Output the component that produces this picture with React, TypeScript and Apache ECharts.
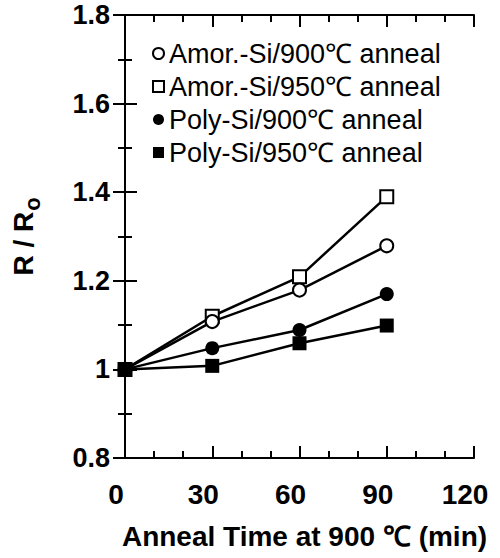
import React, { useEffect, useRef } from "react";
import * as echarts from "echarts";

const times = [0, 30, 60, 90];
const amor900 = [1.0, 1.108, 1.179, 1.279];
const amor950 = [1.0, 1.12, 1.209, 1.39];
const poly900 = [1.0, 1.048, 1.089, 1.17];
const poly950 = [1.0, 1.008, 1.059, 1.099];
const legendNames = [
  "Amor.-Si/900℃ anneal",
  "Amor.-Si/950℃ anneal",
  "Poly-Si/900℃ anneal",
  "Poly-Si/950℃ anneal",
];
const xTicks = { min: 0, max: 120, interval: 30 };
const yTicks = { min: 0.8, max: 1.8, interval: 0.2 };

const FONT = '"Liberation Sans", Arial, Helvetica, sans-serif';

const toPairs = (ys: number[]) => times.map((t, i) => [t, ys[i]]);

export default function App() {
  const ref = useRef<HTMLDivElement>(null);
  useEffect(() => {
    if (!ref.current) return;
    const chart = echarts.init(ref.current, null, { renderer: "svg" });
    const hollow = { color: "#fff", borderColor: "#000", borderWidth: 2 };
    const filled = { color: "#000", borderColor: "#000", borderWidth: 0 };
    const axisLine = { show: true, lineStyle: { color: "#000", width: 2 } };
    const xBase = {
      type: "value",
      min: xTicks.min,
      max: xTicks.max,
      interval: xTicks.interval,
      axisLine,
      axisTick: { show: true, inside: true, length: 12, lineStyle: { color: "#000", width: 2 } },
      minorTick: { show: true, splitNumber: 3, length: 7, lineStyle: { color: "#000", width: 2 } },
      splitLine: { show: false },
    };
    const yBase = {
      type: "value",
      min: yTicks.min,
      max: yTicks.max,
      interval: yTicks.interval,
      axisLine,
      axisTick: { show: true, inside: true, length: 12, lineStyle: { color: "#000", width: 2 } },
      minorTick: { show: true, splitNumber: 2, length: 7, lineStyle: { color: "#000", width: 2 } },
      splitLine: { show: false },
    };
    const mk = (name: string, data: number[], symbol: string, size: number, style: any) => ({
      name,
      type: "line",
      data: toPairs(data),
      symbol,
      symbolSize: size,
      showAllSymbol: true,
      clip: false,
      lineStyle: { color: "#000", width: 2.5 },
      itemStyle: style,
      emphasis: { disabled: true },
    });
    chart.setOption({
      animation: false,
      backgroundColor: "#fff",
      grid: { left: 125, right: 26, top: 15, bottom: 100 },
      legend: {
        orient: "vertical",
        left: 152,
        top: 40,
        padding: 0,
        itemWidth: 11,
        itemHeight: 11,
        itemGap: 6,
        selectedMode: false,
        textStyle: { fontSize: 27, lineHeight: 27, fontFamily: FONT, color: "#000" },
        data: [
          { name: legendNames[0], icon: "circle", itemStyle: { ...hollow } },
          { name: legendNames[1], icon: "rect", itemStyle: { ...hollow } },
          { name: legendNames[2], icon: "circle", itemStyle: { ...filled } },
          { name: legendNames[3], icon: "rect", itemStyle: { ...filled } },
        ],
      },
      xAxis: [
        {
          ...xBase,
          position: "bottom",
          axisLabel: {
            show: true,
            margin: 22,
            fontSize: 28,
            fontWeight: "bold",
            fontFamily: FONT,
            color: "#000",
            padding: [0, 18, 0, 0],
          },
          name: "Anneal Time at 900 ℃ (min)",
          nameLocation: "middle",
          nameGap: 64,
          nameTextStyle: {
            fontSize: 28,
            fontWeight: "bold",
            fontFamily: FONT,
            color: "#000",
            padding: [0, 0, 0, 10],
          },
        },
        {
          ...xBase,
          position: "top",
          axisLabel: { show: false },
        },
      ],
      yAxis: [
        {
          ...yBase,
          position: "left",
          axisLabel: {
            show: true,
            margin: 15,
            fontSize: 27,
            fontWeight: "bold",
            fontFamily: FONT,
            color: "#000",
          },
          name: "{a|R / R}{b|o}",
          nameLocation: "middle",
          nameGap: 88,
          nameTextStyle: {
            rich: {
              a: { fontSize: 28, fontWeight: "bold", fontFamily: FONT, color: "#000", verticalAlign: "bottom" },
              b: { fontSize: 22, fontWeight: "bold", fontFamily: FONT, color: "#000", verticalAlign: "bottom", padding: [0, 0, -6, 1] },
            },
          },
        },
        {
          ...yBase,
          position: "right",
          axisLabel: { show: false },
        },
      ],
      series: [
        mk(legendNames[1], amor950, "rect", 13, hollow),
        mk(legendNames[0], amor900, "circle", 13, hollow),
        mk(legendNames[2], poly900, "circle", 14, filled),
        mk(legendNames[3], poly950, "rect", 14, filled),
      ],
    });
    return () => chart.dispose();
  }, []);
  return (
    <div
      ref={ref}
      style={{ position: "absolute", left: 0, top: 0, width: 500, height: 558, background: "#fff" }}
    />
  );
}
